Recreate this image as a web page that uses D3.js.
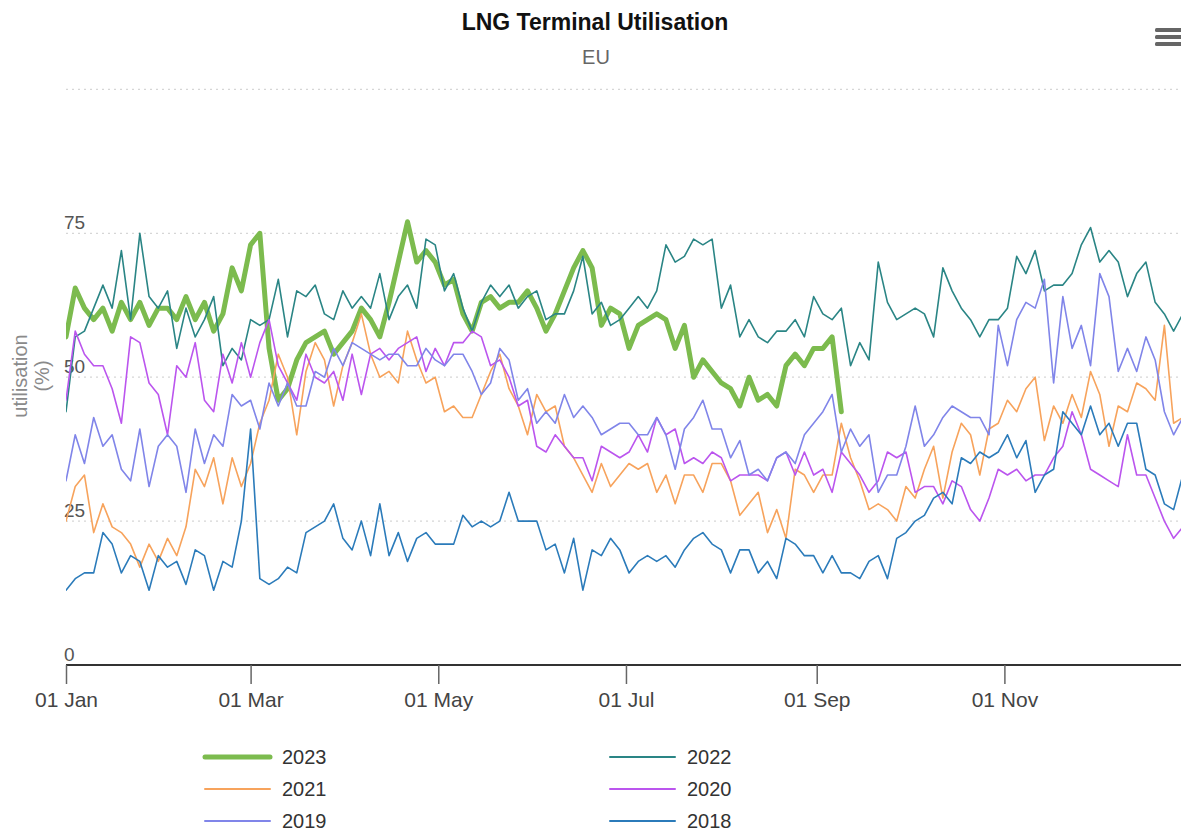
<!DOCTYPE html>
<html><head><meta charset="utf-8">
<script src="https://cdn.jsdelivr.net/npm/d3@7"></script>
<style>
body{margin:0;background:#fff;}
svg{display:block;font-family:"Liberation Sans",Arial,Helvetica,sans-serif;}
</style>
</head><body>
<svg id="chart" width="1181" height="832"></svg>
<script>
// ---- data (values every 3 days from 01 Jan, reference leap year) ----
const years = ["2023","2022","2021","2020","2019","2018"];
const dayStep = 3;
const yTickValues = [0, 25, 50, 75, 100];
const yTickLabels = ["0", "25", "50", "75", ""];
const xTickDates = ["2020-01-01","2020-03-01","2020-05-01","2020-07-01","2020-09-01","2020-11-01"];

const s2023 = [57,65.5,62,60,62,58,63,60,63,59,62,62,60,64,60,63,58,61,69,65,
  73,75,55,46,48,53,56,57,58,54,56,58,62,60,57,63,70,77,70,72,
  70,66,67,61,58,63,64,62,63,63,65,62,58,61,65,69,72,69,59,62,
  61,55,59,60,61,60,55,59,50,53,51,49,48,45,50,46,47,45,52,54,
  52,55,55,57,44];
const s2022 = [44,57,58,62,66,62,72,60,75,64,62,65,55,62,57,60,64,52,55,53,
  60,59,60,67,57,65,64,66,61,60,65,62,64,62,68,60,64,66,62,74,
  73,65,68,62,58,63,66,64,66,62,64,65,60,61,61,65,71,61,63,59,
  60,62,64,62,65,73,70,71,74,73,74,62,66,57,60,57,56,58,58,60,
  57,64,61,60,62,52,56,53,70,63,60,61,62,61,57,69,65,62,60,57,
  60,60,62,71,68,72,65,66,66,68,73,76,70,72,70,64,68,70,63,61,58,61];
const s2021 = [25,31,33,23,28,24,23,21,17,21,18,22,19,24,34,31,36,28,36,31,
  35,42,46,54,50,40,51,56,53,45,52,56,61,54,50,51,49,58,53,49,
  50,44,45,43,43,47,51,54,48,45,40,47,44,45,38,36,33,30,35,31,
  33,35,34,35,30,33,28,33,33,30,35,35,32,26,28,30,23,27,22,34,
  33,30,33,33,42,36,32,27,28,27,25,31,29,34,38,29,37,42,40,33,
  41,42,46,44,48,50,39,45,42,47,43,51,47,38,45,44,49,48,46,59,42,43];
const s2020 = [46,58,54,52,52,48,42,57,56,49,47,40,52,50,56,46,44,54,49,56,
  50,56,60,52,49,46,54,50,49,51,46,54,47,54,55,53,55,56,57,51,
  55,52,56,56,58,57,52,53,50,45,46,38,37,40,38,36,36,32,38,37,
  36,37,40,37,43,40,41,35,36,35,37,36,32,33,33,33,32,36,37,33,
  37,33,34,30,37,35,33,30,32,37,36,37,30,31,31,28,32,31,27,25,
  29,34,33,34,32,33,33,36,38,44,40,34,33,32,31,40,33,33,29,25,22,24];
const s2019 = [32,40,35,43,38,40,34,32,41,31,38,40,38,30,41,35,40,38,47,45,
  46,41,49,45,49,45,45,51,50,55,52,56,55,54,53,54,54,52,52,55,
  53,52,54,54,51,47,49,55,53,46,48,42,44,42,47,43,45,43,40,41,
  42,42,40,40,43,40,34,41,43,46,41,41,36,39,33,34,32,36,37,35,
  40,42,44,47,37,41,38,40,30,33,33,38,45,38,40,43,45,44,43,43,
  40,59,52,60,63,62,67,49,64,55,59,52,68,64,51,55,51,57,53,44,40,43];
const s2018 = [13,15,16,16,23,21,16,19,18,13,19,17,18,14,20,19,13,18,17,25,
  41,15,14,15,17,16,23,24,25,28,22,20,25,19,28,19,23,18,22,23,
  21,21,21,26,24,25,24,25,30,25,25,25,20,21,16,22,13,20,19,22,
  20,16,18,19,18,19,17,20,22,23,21,20,16,20,20,16,18,15,22,21,
  19,19,16,19,16,16,15,18,19,15,22,23,25,26,29,30,28,36,35,37,
  36,37,40,36,39,30,33,34,44,42,40,45,40,42,38,42,42,34,33,28,27,33];

const seriesValues = [s2023, s2022, s2021, s2020, s2019, s2018];
const seriesColors = ["#7cbb4e", "#2a8585", "#f7a35c", "#bb55ee", "#8085e9", "#2b7bba"];
const seriesWidths = [5, 1.6, 1.6, 1.6, 1.6, 1.6];

// ---- layout ----
const svg = d3.select("#chart");
const plotLeft = 66, plotRight = 1189, plotTop = 89.4, plotBottom = 665;

const start = new Date(Date.UTC(2020, 0, 1));
const x = d3.scaleUtc()
  .domain([start, new Date(Date.UTC(2020, 11, 31))])
  .range([plotLeft, plotRight]);
const y = d3.scaleLinear().domain([0, 100]).range([plotBottom, plotTop]);

// title
svg.append("text").attr("x", 595).attr("y", 30).attr("text-anchor", "middle")
  .attr("font-size", 23).attr("font-weight", "bold").attr("fill", "#111")
  .text("LNG Terminal Utilisation");
svg.append("text").attr("x", 596).attr("y", 64).attr("text-anchor", "middle")
  .attr("font-size", 20).attr("fill", "#666").text("EU");

// menu icon
[30, 37, 44].forEach(yy => {
  svg.append("rect").attr("x", 1155).attr("y", yy - 2).attr("width", 30).attr("height", 4)
    .attr("rx", 1.5).attr("fill", "#666");
});

// gridlines + y labels
const grid = svg.append("g");
yTickValues.forEach((v, i) => {
  if (v > 0) {
    grid.append("line").attr("x1", plotLeft).attr("x2", 1181)
      .attr("y1", y(v)).attr("y2", y(v))
      .attr("stroke", "#d6d6d6").attr("stroke-width", 1.2).attr("stroke-dasharray", "2,4");
  }
  if (yTickLabels[i]) {
    grid.append("text").attr("x", 64).attr("y", y(v) - 4)
      .attr("font-size", 19).attr("fill", "#555").text(yTickLabels[i]);
  }
});

// y axis title
const yt = svg.append("text").attr("transform", "translate(27,376) rotate(-90)")
  .attr("text-anchor", "middle").attr("font-size", 20).attr("fill", "#8a8a8a");
yt.append("tspan").attr("x", 0).attr("dy", 0).text("utilisation");
yt.append("tspan").attr("x", 0).attr("dy", 22).text("(%)");

// series
svg.append("clipPath").attr("id", "clip").append("rect")
  .attr("x", plotLeft).attr("y", plotTop - 10).attr("width", plotRight - plotLeft + 5)
  .attr("height", plotBottom - plotTop + 10);
const line = d3.line()
  .x((d, i) => x(d3.utcDay.offset(start, i * dayStep)))
  .y(d => y(d));
const lines = svg.append("g").attr("clip-path", "url(#clip)");
seriesValues.forEach((vals, k) => {
  lines.append("path").datum(vals)
    .attr("fill", "none").attr("stroke", seriesColors[k])
    .attr("stroke-width", seriesWidths[k])
    .attr("stroke-linejoin", "round").attr("stroke-linecap", "round")
    .attr("d", line);
});

// x axis
const xAxis = d3.axisBottom(x)
  .tickValues(xTickDates.map(s => new Date(s + "T00:00:00Z")))
  .tickFormat(d3.utcFormat("%d %b"))
  .tickSize(19).tickSizeOuter(0).tickPadding(8);
const gx = svg.append("g").attr("transform", `translate(0,${plotBottom})`).call(xAxis);
gx.select(".domain").attr("stroke", "#333").attr("stroke-width", 2)
  .attr("d", `M${plotLeft},0H1181`);
gx.selectAll(".tick line").attr("stroke", "#666").attr("stroke-width", 1.5);
gx.selectAll(".tick text").attr("font-size", 21).attr("fill", "#444")
  .attr("font-family", "'Liberation Sans',Arial,sans-serif");

// legend
const legendX = [205, 610];
const legendY = [757, 789, 821];
const lg = svg.append("g");
years.forEach((name, k) => {
  const cx = legendX[k % 2], cy = legendY[Math.floor(k / 2)];
  lg.append("line").attr("x1", cx).attr("x2", cx + 65).attr("y1", cy).attr("y2", cy)
    .attr("stroke", seriesColors[k]).attr("stroke-width", k === 0 ? 5 : 2)
    .attr("stroke-linecap", "round");
  lg.append("text").attr("x", cx + 77).attr("y", cy + 7)
    .attr("font-size", 20).attr("fill", "#333").text(name);
});
</script>
</body></html>
